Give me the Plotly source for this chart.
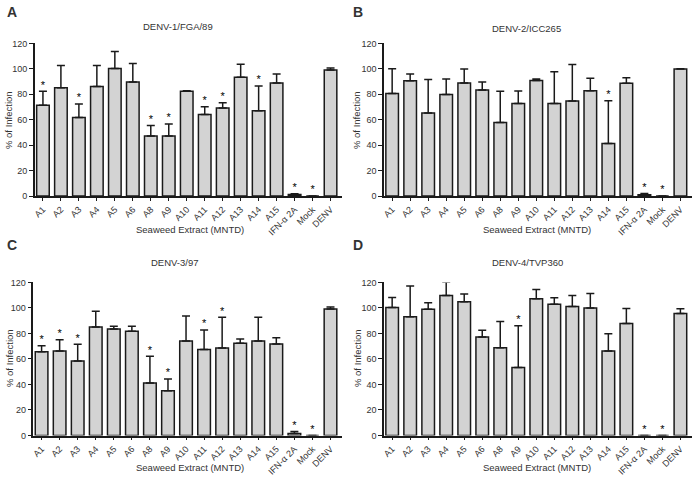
"""Seaweed extract inhibition of DENV-1..4 infection (4-panel bar chart)."""
import plotly.graph_objects as go
from plotly.subplots import make_subplots

categories = ["A1", "A2", "A3", "A4", "A5", "A6", "A8", "A9", "A10", "A11",
              "A12", "A13", "A14", "A15", "IFN-α 2A", "Mock", "DENV"]

panel_letters = ["A", "B", "C", "D"]
panel_titles = ["DENV-1/FGA/89", "DENV-2/ICC265", "DENV-3/97", "DENV-4/TVP360"]

# mean % of infection
mean_a = [71.3, 85.1, 61.8, 86.2, 100.3, 89.6, 47.2, 47.2, 82.3, 64.2,
          69.2, 93.3, 67.1, 88.8, 1.3, 0, 99.0]
mean_b = [80.7, 90.6, 65.2, 79.9, 88.8, 83.3, 57.9, 72.8, 90.9, 72.8,
          74.7, 82.8, 41.4, 88.6, 1.0, 0, 99.8]
mean_c = [65.7, 66.3, 58.4, 85.0, 83.5, 81.7, 41.2, 35.0, 74.1, 67.3,
          68.6, 72.3, 74.1, 71.7, 1.6, 0, 99.1]
mean_d = [100.3, 93.0, 99.0, 109.8, 104.8, 77.2, 68.8, 53.3, 107.1, 102.9,
          101.1, 100.0, 66.2, 87.7, 0, 0, 95.6]

# standard deviation (upper error bar)
sd_a = [11.0, 17.6, 10.5, 16.5, 13.4, 14.7, 8.3, 9.4, 0.5, 6.0,
        4.2, 10.4, 19.4, 7.1, 0.5, 0, 1.6]
sd_b = [19.4, 5.3, 26.5, 12.1, 11.0, 6.3, 24.4, 9.7, 1.1, 24.9,
        28.8, 9.9, 33.5, 4.4, 1.1, 0, 0.2]
sd_c = [4.7, 8.8, 13.1, 12.3, 2.1, 3.9, 20.9, 9.3, 19.6, 15.4,
        24.0, 3.4, 18.5, 5.0, 1.5, 0, 1.6]
sd_d = [7.9, 24.1, 5.0, 10.5, 6.0, 5.3, 20.5, 32.8, 7.4, 5.0,
        8.7, 11.3, 13.6, 11.8, 0, 0, 3.7]

# significance markers
sig_a = ["A1", "A3", "A8", "A9", "A11", "A12", "A14", "IFN-α 2A", "Mock"]
sig_b = ["A14", "IFN-α 2A", "Mock"]
sig_c = ["A1", "A2", "A3", "A8", "A9", "A11", "A12", "IFN-α 2A", "Mock"]
sig_d = ["A9", "IFN-α 2A", "Mock"]

means = [mean_a, mean_b, mean_c, mean_d]
sds = [sd_a, sd_b, sd_c, sd_d]
sigs = [sig_a, sig_b, sig_c, sig_d]

FONT = "Liberation Sans, Arial, sans-serif"
INK = "#1a1a1a"
TXT = "#333"
W, H = 697, 477

fig = make_subplots(rows=2, cols=2)

# pixel layout of each panel: plot box, letter, title, axis titles
x_domains = [[0.050, 0.491], [0.551, 0.993], [0.048, 0.491], [0.551, 0.993]]
y_domains = [[0.589, 0.909], [0.589, 0.909], [0.087, 0.408], [0.087, 0.408]]
letter_pos = [(12, 12), (358, 12), (12, 245), (358, 245)]
title_pos = [(178, 27), (526, 28), (175, 262), (527, 262)]
xtitle_pos = [(190, 229), (537, 229), (190, 467), (537, 467)]
ytitle_pos = [(9, 120), (357, 120), (9, 358), (357, 358)]


def note(text, px, py, size, angle=0):
    fig.add_annotation(
        text=text, xref="paper", yref="paper", x=px / W, y=1 - py / H,
        xanchor="center", yanchor="middle", showarrow=False, textangle=angle,
        font=dict(family=FONT, size=size, color=TXT),
    )


for i in range(4):
    row, col = i // 2 + 1, i % 2 + 1
    m, s = means[i], sds[i]
    fig.add_trace(go.Bar(
        x=categories, y=m, width=0.7,
        marker=dict(color="#d3d3d3", line=dict(color=INK, width=1.5)),
        error_y=dict(type="data", symmetric=False, array=s,
                     arrayminus=[0] * len(s), color=INK,
                     thickness=1.5, width=4),
        showlegend=False,
    ), row=row, col=col)

    star_x = [c for c in categories if c in sigs[i]]
    star_y = [m[categories.index(c)] + s[categories.index(c)] for c in star_x]
    fig.add_trace(go.Scatter(
        x=star_x, y=star_y, mode="text", text=["*"] * len(star_x),
        textposition="top center",
        textfont=dict(family=FONT, size=11, color="#000"),
        showlegend=False, hoverinfo="skip",
    ), row=row, col=col)

    sfx = "" if i == 0 else str(i + 1)
    fig.layout["xaxis" + sfx].update(
        domain=x_domains[i], range=[-0.45, 16.65], automargin=False,
        showline=True, linecolor=INK, linewidth=1.5,
        ticks="outside", ticklen=3, tickwidth=1, tickcolor=INK,
        tickangle=-45, tickfont=dict(family=FONT, size=9, color=TXT),
        showgrid=False, zeroline=False,
    )
    fig.layout["yaxis" + sfx].update(
        domain=y_domains[i], range=[0, 120], dtick=20, automargin=False,
        showline=True, linecolor=INK, linewidth=1.5,
        ticks="outside", ticklen=4, tickwidth=1.2, tickcolor=INK,
        tickfont=dict(family=FONT, size=9, color=TXT),
        showgrid=False, zeroline=False,
    )

    note("<b>" + panel_letters[i] + "</b>", *letter_pos[i], 14)
    note(panel_titles[i], *title_pos[i], 9.5)
    note("Seaweed Extract (MNTD)", *xtitle_pos[i], 9.5)
    note("% of Infection", *ytitle_pos[i], 9.5, angle=-90)

fig.update_layout(
    width=W, height=H,
    margin=dict(l=0, r=0, t=0, b=0),
    paper_bgcolor="white", plot_bgcolor="white",
)

# drop the default 8px page margin so the figure fills the window
fig.write_html(
    "out.html",
    config={"displayModeBar": False},
    post_script="document.body.style.margin='0';"
                "document.body.style.overflow='hidden';",
)
